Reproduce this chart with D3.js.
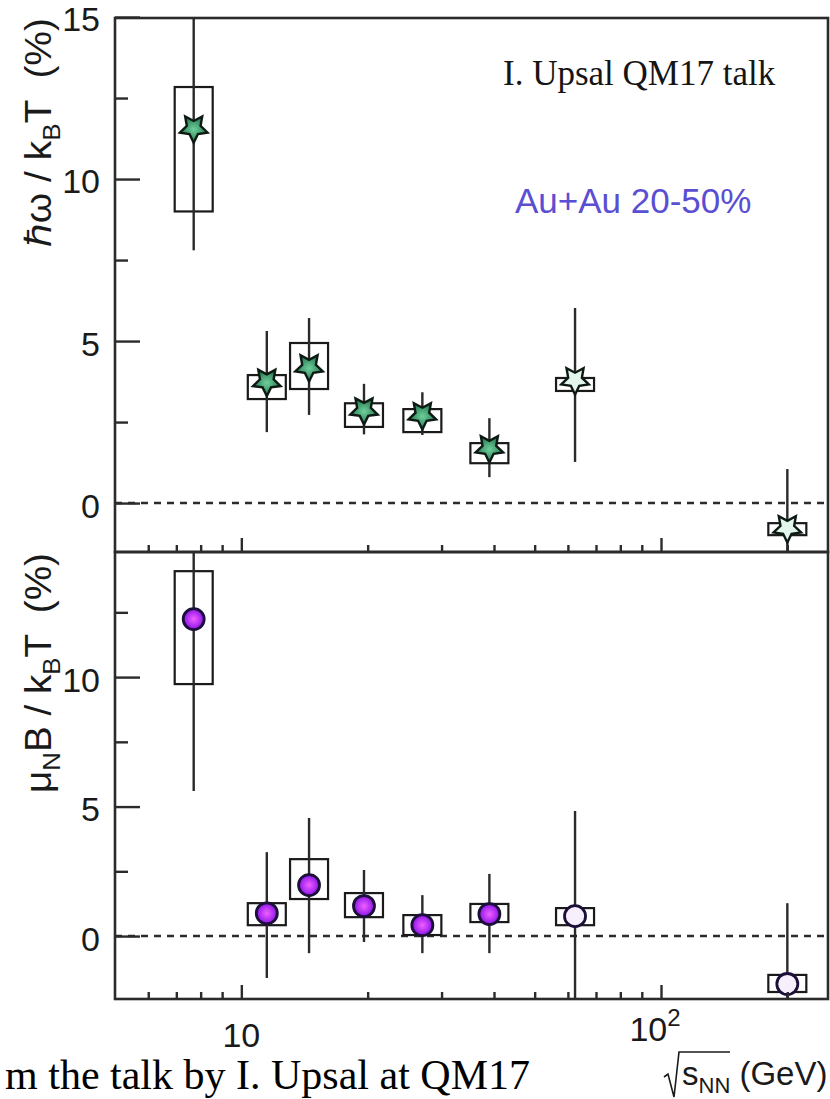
<!DOCTYPE html>
<html>
<head>
<meta charset="utf-8">
<script src="https://cdn.jsdelivr.net/npm/d3@7"></script>
<style>
  body { margin: 0; background: #fff; }
  svg { display: block; }
</style>
</head>
<body>
<svg id="chart" width="830" height="1099"></svg>
<script>
// beam energies (GeV)
const energies = [7.7, 11.5, 14.5, 19.6, 27, 39, 62.4, 200];
// open (light filled) markers for the last two energies
const openMarker = [false, false, false, false, false, false, true, true];

// upper panel: hbar omega / kB T (%)
const omegaVal    = [11.57, 3.75, 4.2, 2.87, 2.72, 1.7, 3.8, -0.77];
const omegaStatLo = [7.8, 2.19, 2.72, 2.12, 2.1, 0.8, 1.27, -2.6];
const omegaStatHi = [15.4, 5.31, 5.71, 3.68, 3.42, 2.62, 6.02, 1.05];
const omegaSysLo  = [9.0, 3.21, 3.52, 2.35, 2.19, 1.23, 3.46, -0.99];
const omegaSysHi  = [12.84, 3.95, 4.94, 3.08, 2.9, 1.85, 3.86, -0.62];

// lower panel: muN B / kB T (%)
const magVal    = [12.24, 0.88, 1.97, 1.16, 0.42, 0.85, 0.77, -1.85];
const magStatLo = [5.6, -1.62, -0.66, -0.23, -0.66, -0.66, -3.5, -3.5];
const magStatHi = [16.8, 3.24, 4.56, 2.55, 1.58, 2.4, 4.83, 1.27];
const magSysLo  = [9.73, 0.42, 1.43, 0.73, 0.04, 0.54, 0.42, -2.16];
const magSysHi  = [14.09, 1.27, 2.97, 1.66, 0.81, 1.24, 1.08, -1.5];

// ticks
const yMajorTop = [0, 5, 10, 15];
const yMinorTop = [2.5, 7.5, 12.5];
const yMajorBot = [0, 5, 10];
const yMinorBot = [2.5, 7.5, 12.5];
const xMajor = [10, 100];
const xMinor = [6, 7, 8, 9, 20, 30, 40, 50, 60, 70, 80, 90, 200];

const svg = d3.select("#chart");
const sans = "'Liberation Sans', Arial, sans-serif";
const serif = "'Liberation Serif', 'Times New Roman', serif";
const axisColor = "#2b2b2b";

const left = 115, right = 828;
const topY = 18, midY = 552, botY = 999;

const x = d3.scaleLog().domain([5, 250]).range([left, right]);
const yTop = d3.scaleLinear().domain([-1.51, 14.97]).range([midY, topY]);
const yBot = d3.scaleLinear().domain([-2.43, 14.83]).range([botY, midY]);

// gradients for the markers
const defs = svg.append("defs");
const gStar = defs.append("radialGradient").attr("id", "starFill");
gStar.append("stop").attr("offset", "0%").attr("stop-color", "#6fcf9c");
gStar.append("stop").attr("offset", "100%").attr("stop-color", "#24784e");
const gCirc = defs.append("radialGradient").attr("id", "circFill");
gCirc.append("stop").attr("offset", "0%").attr("stop-color", "#f060ff");
gCirc.append("stop").attr("offset", "100%").attr("stop-color", "#8a12e8");

// fat five-pointed star, one point downwards
const starPts = d3.range(10).map(k => [Math.PI + k * Math.PI / 5, k % 2 === 0 ? 14.5 : 7.2]);
const starPath = d3.lineRadial().curve(d3.curveLinearClosed)(starPts);

function makePanel(yScale, y0, y1, vals, statLo, statHi, sysLo, sysHi, majors, minors, kind, id) {
    defs.append("clipPath").attr("id", id)
        .append("rect")
        .attr("x", left).attr("y", y0)
        .attr("width", right - left).attr("height", y1 - y0);

    const g = svg.append("g");
    const plot = g.append("g").attr("clip-path", `url(#${id})`);

    // zero line
    plot.append("line")
        .attr("x1", left).attr("x2", right)
        .attr("y1", yScale(0)).attr("y2", yScale(0))
        .attr("stroke", axisColor)
        .attr("stroke-width", 2.4)
        .attr("stroke-dasharray", "7,6");

    const data = energies.map((e, i) => ({
        e: e, v: vals[i], lo: statLo[i], hi: statHi[i], slo: sysLo[i], shi: sysHi[i], open: openMarker[i]
    }));

    // systematic boxes
    plot.selectAll(".sys")
        .data(data)
        .enter().append("rect")
        .attr("x", d => x(d.e) - 19)
        .attr("width", 38)
        .attr("y", d => yScale(d.shi))
        .attr("height", d => yScale(d.slo) - yScale(d.shi))
        .attr("fill", "none")
        .attr("stroke", "#1a1a1a")
        .attr("stroke-width", 2.2);

    // statistical error bars
    plot.selectAll(".stat")
        .data(data)
        .enter().append("line")
        .attr("x1", d => x(d.e)).attr("x2", d => x(d.e))
        .attr("y1", d => yScale(d.lo)).attr("y2", d => yScale(d.hi))
        .attr("stroke", "#2a2a2a")
        .attr("stroke-width", 2.4);

    // markers
    if (kind === "star") {
        plot.selectAll(".mk")
            .data(data)
            .enter().append("path")
            .attr("d", starPath)
            .attr("transform", d => `translate(${x(d.e)},${yScale(d.v)})`)
            .attr("fill", d => d.open ? "#e3f6ec" : "url(#starFill)")
            .attr("stroke", "#0c1a13")
            .attr("stroke-width", 2.4)
            .attr("stroke-linejoin", "miter");
    } else {
        plot.selectAll(".mk")
            .data(data)
            .enter().append("circle")
            .attr("cx", d => x(d.e))
            .attr("cy", d => yScale(d.v))
            .attr("r", 10.5)
            .attr("fill", d => d.open ? "#f7effc" : "url(#circFill)")
            .attr("stroke", "#1c0f3a")
            .attr("stroke-width", 2.8);
    }

    // y axis: ticks point inwards
    const yAxisMajor = d3.axisLeft(yScale).tickValues(majors).tickSize(-25).tickPadding(15).tickFormat(d3.format("d"));
    const ya = g.append("g").attr("transform", `translate(${left},0)`).call(yAxisMajor);
    ya.select(".domain").remove();
    ya.selectAll("line").attr("stroke", axisColor).attr("stroke-width", 2.4);
    ya.selectAll("text")
        .attr("font-family", sans)
        .attr("font-size", 34)
        .attr("fill", "#1a1a1a")
        .attr("dy", "0.41em");

    const yAxisMinor = d3.axisLeft(yScale).tickValues(minors).tickSize(-13).tickFormat("");
    const ym = g.append("g").attr("transform", `translate(${left},0)`).call(yAxisMinor);
    ym.select(".domain").remove();
    ym.selectAll("line").attr("stroke", axisColor).attr("stroke-width", 2.4);

    // x ticks along the bottom of the panel, pointing up
    const xAxisMajor = d3.axisBottom(x).tickValues(xMajor).tickSize(-14).tickFormat("");
    const xa = g.append("g").attr("transform", `translate(0,${y1})`).call(xAxisMajor);
    xa.select(".domain").remove();
    xa.selectAll("line").attr("stroke", axisColor).attr("stroke-width", 2.4);

    const xAxisMinor = d3.axisBottom(x).tickValues(xMinor).tickSize(-7).tickFormat("");
    const xm = g.append("g").attr("transform", `translate(0,${y1})`).call(xAxisMinor);
    xm.select(".domain").remove();
    xm.selectAll("line").attr("stroke", axisColor).attr("stroke-width", 2.4);

    // frame
    g.append("rect")
        .attr("x", left).attr("y", y0)
        .attr("width", right - left).attr("height", y1 - y0)
        .attr("fill", "none")
        .attr("stroke", axisColor)
        .attr("stroke-width", 2.6);
}

makePanel(yTop, topY, midY, omegaVal, omegaStatLo, omegaStatHi, omegaSysLo, omegaSysHi, yMajorTop, yMinorTop, "star", "clipTop");
makePanel(yBot, midY, botY, magVal, magStatLo, magStatHi, magSysLo, magSysHi, yMajorBot, yMinorBot, "circle", "clipBot");

// y axis titles (rotated, aligned to the top end of each panel)
const t1 = svg.append("text")
    .attr("transform", `translate(51,${topY}) rotate(-90)`)
    .attr("text-anchor", "end")
    .attr("font-family", sans)
    .attr("font-size", 36)
    .attr("textLength", 229)
    .attr("lengthAdjust", "spacingAndGlyphs")
    .attr("fill", "#1a1a1a")
    .style("white-space", "pre");
t1.append("tspan").text("\u210Fω / k");
t1.append("tspan").attr("dy", 9).attr("font-size", 24).text("B");
t1.append("tspan").attr("dy", -9).text("T  (%)");

const t2 = svg.append("text")
    .attr("transform", `translate(51,${midY + 1}) rotate(-90)`)
    .attr("text-anchor", "end")
    .attr("font-family", sans)
    .attr("font-size", 36)
    .attr("textLength", 240)
    .attr("lengthAdjust", "spacingAndGlyphs")
    .attr("fill", "#1a1a1a")
    .style("white-space", "pre");
t2.append("tspan").text("μ");
t2.append("tspan").attr("dy", 9).attr("font-size", 24).text("N");
t2.append("tspan").attr("dy", -9).text("B / k");
t2.append("tspan").attr("dy", 9).attr("font-size", 24).text("B");
t2.append("tspan").attr("dy", -9).text("T  (%)");

// x tick labels
svg.append("text")
    .attr("x", x(10)).attr("y", 1047)
    .attr("text-anchor", "middle")
    .attr("font-family", sans).attr("font-size", 34).attr("fill", "#1a1a1a")
    .text("10");
const lab100 = svg.append("text")
    .attr("x", x(100) - 6).attr("y", 1041)
    .attr("text-anchor", "middle")
    .attr("font-family", sans).attr("font-size", 34).attr("fill", "#1a1a1a");
lab100.append("tspan").text("10");
lab100.append("tspan").attr("dy", -15).attr("font-size", 24).text("2");

// x axis title: sqrt(s_NN) (GeV)
const xt = svg.append("text")
    .attr("x", 682).attr("y", 1085)
    .attr("font-family", sans).attr("font-size", 33).attr("fill", "#1a1a1a")
    .style("white-space", "pre");
xt.append("tspan").text("s");
xt.append("tspan").attr("dy", 8).attr("font-size", 22).text("NN");
xt.append("tspan").attr("dy", -8).text(" (GeV)");
svg.append("path")
    .attr("d", "M664,1077 L668,1074 L674,1097 L679,1052 L730,1052")
    .attr("fill", "none")
    .attr("stroke", "#1a1a1a")
    .attr("stroke-width", 1.6);

// annotations
svg.append("text")
    .attr("x", 503).attr("y", 85)
    .attr("font-family", serif).attr("font-size", 35).attr("fill", "#151515")
    .text("I. Upsal QM17 talk");

svg.append("text")
    .attr("x", 515).attr("y", 213)
    .attr("font-family", sans).attr("font-size", 35).attr("fill", "#5a4ed2")
    .text("Au+Au 20-50%");

// caption below the figure (cut at the left)
svg.append("text")
    .attr("x", 530).attr("y", 1089)
    .attr("text-anchor", "end")
    .attr("font-family", serif).attr("font-size", 42).attr("fill", "#000")
    .text("m the talk by I. Upsal at QM17");
</script>
</body>
</html>
